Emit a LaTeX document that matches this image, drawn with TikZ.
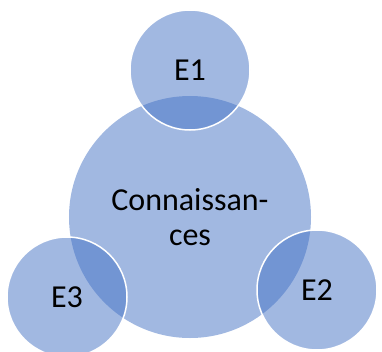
\documentclass[tikz,border=0pt]{standalone}
\usepackage{fontspec}
\setmainfont{Carlito}
\usepackage{tikz}
\usepackage{xcolor}
\usetikzlibrary{positioning}
\definecolor{OfficeBlue}{HTML}{4472C4}

\begin{document}
\begin{tikzpicture}[x=1pt, y=1pt, node distance=147pt, on grid, font=\fontsize{32}{35}\selectfont, core/.style={circle, fill=OfficeBlue, fill opacity=0.5, text opacity=1, align=center, inner sep=0pt, minimum size=242pt}, sat/.style={circle, fill=OfficeBlue, fill opacity=0.5, text opacity=1, draw=white, line width=1.5pt, inner sep=0pt, minimum size=120pt}]

        \useasboundingbox (-190,-134) rectangle (192,217);
        \node[core] (K) {Connaissan-\\ces};
        \node[sat, above=of K] (E1) {E1};
        \node[sat, below right=73pt and 127pt of K] (E2) {E2};
        \node[sat, below left=80pt and 123pt of K] (E3) {E3};

    \end{tikzpicture}
\end{document}
